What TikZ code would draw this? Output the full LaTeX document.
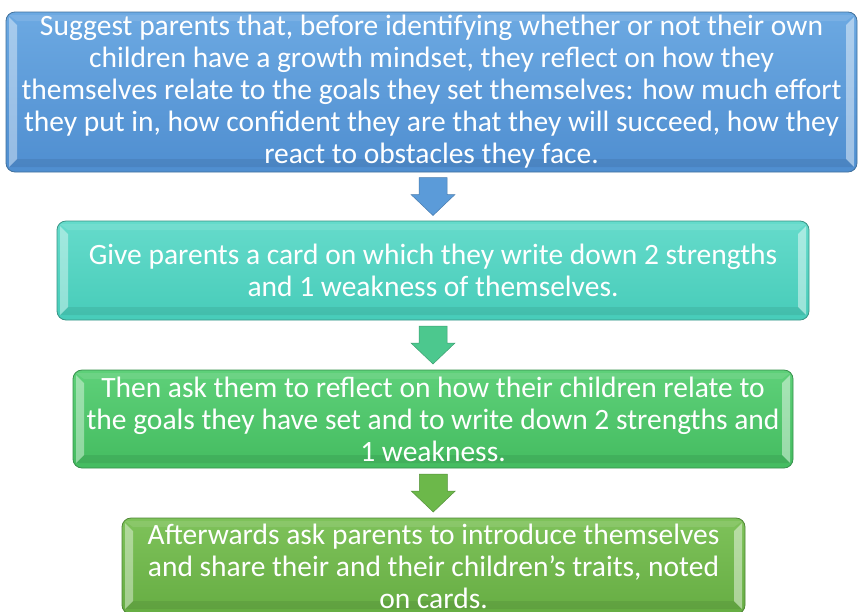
\documentclass[tikz,border=0pt]{standalone}
\usepackage{fontspec}
\setmainfont{Carlito}
\usetikzlibrary{calc}

\definecolor{blueTop}{HTML}{6CA9E2}
\definecolor{blueBot}{HTML}{4F8ED0}
\definecolor{blueEdge}{HTML}{41719C}
\definecolor{tealTop}{HTML}{65DBCB}
\definecolor{tealBot}{HTML}{47CCB9}
\definecolor{tealEdge}{HTML}{3A9485}
\definecolor{grnTop}{HTML}{5ED079}
\definecolor{grnBot}{HTML}{44BC60}
\definecolor{grnEdge}{HTML}{36914C}
\definecolor{limeTop}{HTML}{7EC25A}
\definecolor{limeBot}{HTML}{66AD43}
\definecolor{limeEdge}{HTML}{4F8636}
\definecolor{arrBlue}{HTML}{5B9BD9}
\definecolor{arrTeal}{HTML}{4CC88E}
\definecolor{arrLime}{HTML}{6CB84A}

\tikzset{
  bevel/.style={path picture={
    % light left and right edges, darker bottom edge
    \fill[white,opacity=.40,sharp corners]
      ($(path picture bounding box.north west)+(3pt,-5pt)$) --
      ($(path picture bounding box.north west)+(11pt,-13pt)$) --
      ($(path picture bounding box.south west)+(11pt,13pt)$) --
      ($(path picture bounding box.south west)+(3pt,5pt)$) -- cycle;
    \fill[white,opacity=.45,sharp corners]
      ($(path picture bounding box.north east)+(-3pt,-5pt)$) --
      ($(path picture bounding box.north east)+(-11pt,-13pt)$) --
      ($(path picture bounding box.south east)+(-11pt,13pt)$) --
      ($(path picture bounding box.south east)+(-3pt,5pt)$) -- cycle;
    \fill[black,opacity=.07,sharp corners]
      ($(path picture bounding box.south west)+(3pt,5pt)$) --
      ($(path picture bounding box.south west)+(11pt,13pt)$) --
      ($(path picture bounding box.south east)+(-11pt,13pt)$) --
      ($(path picture bounding box.south east)+(-3pt,5pt)$) -- cycle;
    \fill[white,opacity=.10,sharp corners]
      ($(path picture bounding box.north west)+(3pt,-3pt)$) --
      ($(path picture bounding box.north west)+(11pt,-9pt)$) --
      ($(path picture bounding box.north east)+(-11pt,-9pt)$) --
      ($(path picture bounding box.north east)+(-3pt,-3pt)$) -- cycle;
  }},
  stepbox/.style={rounded corners=9pt, line width=0.8pt, inner sep=0pt,
    text=white, align=center, font=\fontsize{29.5}{32}\selectfont, bevel},
  pics/downarrow/.style={code={
    \fill[#1, draw=#1!80!black, line width=0.5pt]
      (-14pt,19pt) -- (14pt,19pt) -- (14pt,2pt) -- (22pt,2pt) --
      (0pt,-19pt) -- (-22pt,2pt) -- (-14pt,2pt) -- cycle;
  }}
}

\begin{document}
\begin{tikzpicture}[x=1pt,y=-1pt]
  \useasboundingbox (0,0) rectangle (858,611);
  \clip (0,0) rectangle (858,611);
  \fill[white] (0,0) rectangle (858,611);

  \node[stepbox, draw=blueEdge, top color=blueTop, bottom color=blueBot,
        minimum width=851pt, minimum height=160pt] (b1) at (431.5,92)
    {Suggest parents that, before identifying whether or not their own\\
     children have a growth mindset, they reflect on how they\\
     themselves relate to the goals they set themselves: how much effort\\
     they put in, how confident they are that they will succeed, how they\\
     react to obstacles they face.};

  \node[stepbox, draw=tealEdge, top color=tealTop, bottom color=tealBot,
        minimum width=752pt, minimum height=99pt] (b2) at (433,270.5)
    {Give parents a card on which they write down 2 strengths\\
     and 1 weakness of themselves.};

  \node[stepbox, draw=grnEdge, top color=grnTop, bottom color=grnBot,
        minimum width=720pt, minimum height=98pt] (b3) at (433,419)
    {Then ask them to reflect on how their children relate to\\
     the goals they have set and to write down 2 strengths and\\
     1 weakness.};

  \node[stepbox, draw=limeEdge, top color=limeTop, bottom color=limeBot,
        minimum width=623pt, minimum height=96pt] (b4) at (433.5,566)
    {Afterwards ask parents to introduce themselves\\
     and share their and their children's traits, noted\\
     on cards.};

  % block arrows between consecutive steps
  \path ($(b2.south)!0.5!(b3.north)$) coordinate (a2);
  \path ($(b3.south)!0.5!(b4.north)$) coordinate (a3);
  \path (b2.north |- {$(b1.south)!0.5!(b2.north)$}) coordinate (a1);
  \path (a1) pic{downarrow=arrBlue};
  \path (a2) pic{downarrow=arrTeal};
  \path (a3) pic{downarrow=arrLime};
\end{tikzpicture}
\end{document}
